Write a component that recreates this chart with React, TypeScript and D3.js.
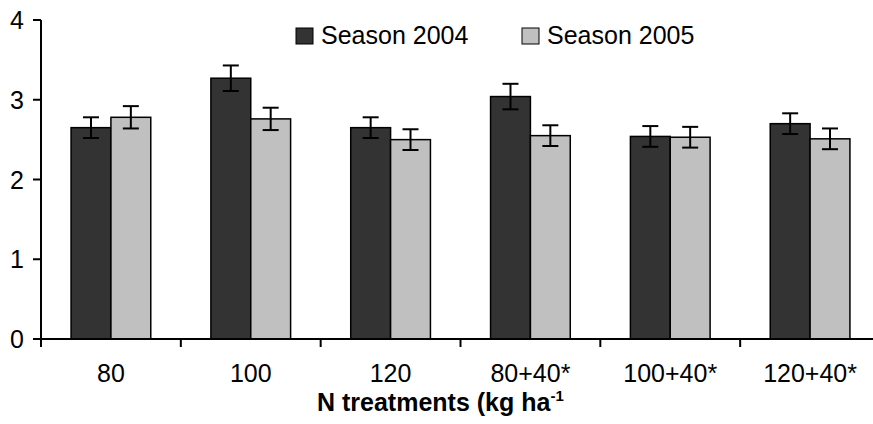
import React from 'react';
import * as d3 from 'd3';

const categories = ['80', '100', '120', '80+40*', '100+40*', '120+40*'];
const seriesNames = ['Season 2004', 'Season 2005'];
const season2004 = [2.65, 3.27, 2.65, 3.04, 2.54, 2.7];
const season2005 = [2.78, 2.76, 2.5, 2.55, 2.53, 2.51];
const err2004 = [0.13, 0.16, 0.13, 0.16, 0.13, 0.13];
const err2005 = [0.14, 0.14, 0.13, 0.13, 0.13, 0.13];
const yTicks = [0, 1, 2, 3, 4];

const colors = ['#333333', '#c0c0c0'];
const font = 'Liberation Sans, Arial, sans-serif';

const width = 873;
const height = 424;
const margin = { top: 20, right: -7, bottom: 85, left: 41 };

export default function App() {
  const innerW = width - margin.left - margin.right;
  const innerH = height - margin.top - margin.bottom;

  const x = d3.scaleBand<string>()
    .domain(categories)
    .range([0, innerW])
    .paddingInner(0.43)
    .paddingOuter(0.215);

  const xSub = d3.scaleBand<string>()
    .domain(seriesNames)
    .range([0, x.bandwidth()]);

  const y = d3.scaleLinear().domain([0, 4]).range([innerH, 0]);

  const values = [season2004, season2005];
  const errors = [err2004, err2005];

  // category boundaries for x ticks
  const boundaries = categories.map(c => x(c)! + x.bandwidth() / 2 - x.step() / 2);

  return (
    <svg width={width} height={height} style={{ position: 'absolute', left: 0, top: 0, background: '#fff' }}
      fontFamily={font}>
      <g transform={`translate(${margin.left},${margin.top})`}>
        {/* bars */}
        {categories.map((c, i) => (
          <g key={c} transform={`translate(${x(c)},0)`}>
            {seriesNames.map((s, k) => (
              <rect key={s}
                x={xSub(s)}
                y={y(values[k][i])}
                width={xSub.bandwidth()}
                height={innerH - y(values[k][i])}
                fill={colors[k]}
                stroke="#000"
                strokeWidth={1.5} />
            ))}
          </g>
        ))}

        {/* error bars */}
        {categories.map((c, i) => (
          <g key={'e' + c} transform={`translate(${x(c)},0)`} stroke="#000" strokeWidth={2}>
            {seriesNames.map((s, k) => {
              const cx = xSub(s)! + xSub.bandwidth() / 2;
              const hi = y(values[k][i] + errors[k][i]);
              const lo = y(values[k][i] - errors[k][i]);
              return (
                <g key={s}>
                  <line x1={cx} x2={cx} y1={hi} y2={lo} />
                  <line x1={cx - 8} x2={cx + 8} y1={hi} y2={hi} />
                  <line x1={cx - 8} x2={cx + 8} y1={lo} y2={lo} />
                </g>
              );
            })}
          </g>
        ))}

        {/* y axis */}
        <line x1={0} x2={0} y1={0} y2={innerH} stroke="#000" strokeWidth={2} />
        {yTicks.map(t => (
          <g key={t} transform={`translate(0,${y(t)})`}>
            <line x1={-8} x2={0} stroke="#000" strokeWidth={2} />
            <text x={-17} y={9} textAnchor="end" fontSize={25} fill="#000">{t}</text>
          </g>
        ))}

        {/* x axis */}
        <line x1={0} x2={innerW} y1={innerH} y2={innerH} stroke="#000" strokeWidth={2} />
        {boundaries.map((b, i) => (
          <line key={i} x1={b} x2={b} y1={innerH} y2={innerH + 8} stroke="#000" strokeWidth={2} />
        ))}
        {categories.map(c => (
          <text key={'l' + c} x={x(c)! + x.bandwidth() / 2} y={innerH + 43}
            textAnchor="middle" fontSize={25} fill="#000">{c}</text>
        ))}
      </g>

      {/* x title */}
      <text x={317} y={411} fontSize={25} fontWeight="bold" fill="#000">
        N treatments (kg ha<tspan fontSize={15} dy={-10}>-1</tspan>
      </text>

      {/* legend */}
      {seriesNames.map((s, k) => {
        const lx = [296, 522][k];
        return (
          <g key={'lg' + s}>
            <rect x={lx} y={28} width={17} height={16} fill={colors[k]} stroke="#000" strokeWidth={1} />
            <text x={lx + 25} y={44} fontSize={25} fill="#000">{s}</text>
          </g>
        );
      })}
    </svg>
  );
}
